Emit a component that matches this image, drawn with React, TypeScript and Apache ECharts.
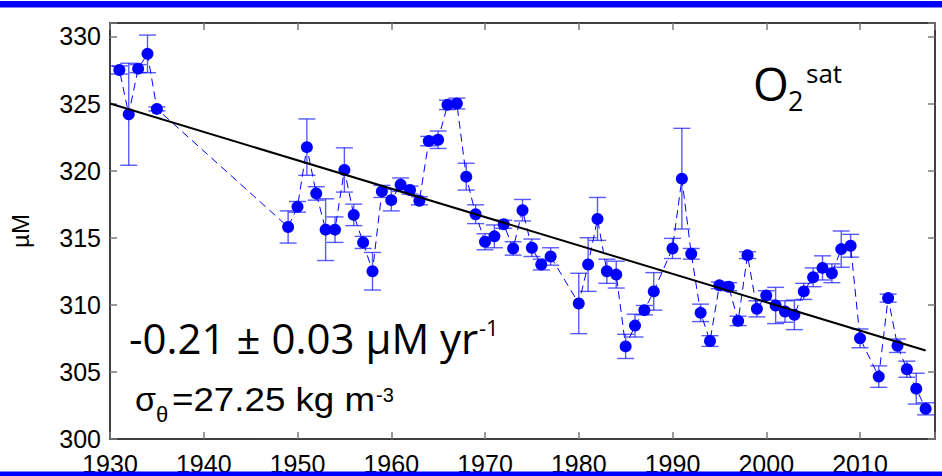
import React, { useEffect, useRef } from "react";
import * as echarts from "echarts";

const years = [
  1929, 1931, 1932, 1933, 1934, 1935,
  1949, 1950, 1951, 1952, 1953, 1954, 1955, 1956, 1957, 1958, 1959,
  1960, 1961, 1962, 1963, 1964, 1965, 1966, 1967, 1968, 1969,
  1970, 1971, 1972, 1973, 1974, 1975, 1976, 1977,
  1980, 1981, 1982, 1983, 1984, 1985, 1986, 1987, 1988,
  1990, 1991, 1992, 1993, 1994, 1995, 1996, 1997, 1998, 1999,
  2000, 2001, 2002, 2003, 2004, 2005, 2006, 2007, 2008, 2009,
  2010, 2012, 2013, 2014, 2015, 2016, 2017,
];
const values = [
  328.3, 327.5, 324.2, 327.6, 328.7, 324.6,
  315.8, 317.3, 321.75, 318.3, 315.6, 315.6, 320.05, 316.7, 314.65, 312.5, 318.45,
  317.8, 318.95, 318.55, 317.75, 322.2, 322.3, 324.9, 325.0, 319.55, 316.75,
  314.7, 315.1, 316.0, 314.2, 317.05, 314.25, 313.0, 313.6,
  310.1, 313.0, 316.4, 312.5, 312.25, 306.9, 308.45, 309.6, 311.0,
  314.2, 319.4, 313.8, 309.4, 307.3, 311.45, 311.35, 308.8, 313.7, 309.7,
  310.7, 309.95, 309.5, 309.25, 311.0, 312.05, 312.75, 312.35, 314.15, 314.4,
  307.5, 304.65, 310.5, 306.95, 305.2, 303.75, 302.25,
];
const errors = [
  0.3, 0.3, 3.8, 0.3, 1.4, 0.15,
  1.2, 0.4, 2.1, 0.5, 2.3, 0.95, 1.65, 0.8, 0.45, 1.4, 0.45,
  0.8, 0.5, 0.3, 0.3, 0.35, 0.65, 0.35, 0.4, 1.0, 0.7,
  0.6, 0.85, 0.3, 0.5, 0.8, 0.65, 0.4, 0.65,
  2.25, 2.0, 1.6, 0.9, 1.0, 0.9, 0.85, 0.35, 1.4,
  0.75, 3.75, 0.4, 0.65, 0.4, 0.25, 0.3, 0.35, 0.25, 0.6,
  0.35, 1.35, 0.8, 1.1, 0.6, 0.7, 0.9, 0.7, 1.35, 0.85,
  0.7, 0.8, 0.3, 0.5, 0.6, 1.15, 0.45,
];
const trendYears = [1930, 2017];
const trendValues = [325.0, 306.6];

const xMin = 1930;
const xMax = 2018;
const xInterval = 10;
const yMin = 300;
const yMax = 331;
const yInterval = 5;

const BLUE = "#0000ff";
const ERR = "rgba(20,20,255,0.7)";
const TICK = "#7a7a7a";
const AXIS_FONT = "Liberation Sans";
const CAL_FONT = "Open Sans";

export default function App() {
  const ref = useRef<HTMLDivElement>(null);

  useEffect(() => {
    if (!ref.current) return;
    const chart = echarts.init(ref.current, undefined, { renderer: "svg" });

    const pts = years.map((y, i) => [y, values[i]]);
    const errData = years.map((y, i) => [y, values[i], errors[i]]);
    const trend = trendYears.map((y, i) => [y, trendValues[i]]);

    const axisCommonX = {
      type: "value" as const,
      min: xMin,
      max: xMax,
      interval: xInterval,
      splitLine: { show: false },
      axisLine: { show: true, onZero: false, lineStyle: { color: "#000", width: 1.5 } },
      axisTick: { show: true, inside: true, length: 7, lineStyle: { color: TICK, width: 1.5 } },
    };
    const axisCommonY = {
      type: "value" as const,
      min: yMin,
      max: yMax,
      interval: yInterval,
      splitLine: { show: false },
      axisLine: { show: true, onZero: false, lineStyle: { color: "#000", width: 1.5 } },
      axisTick: { show: true, inside: true, length: 7, lineStyle: { color: TICK, width: 1.5 } },
    };

    const option: any = {
      animation: false,
      backgroundColor: "#fff",
      grid: { left: 103, right: 7, top: 23, bottom: 37, containLabel: false },
      xAxis: [
        {
          ...axisCommonX,
          position: "bottom",
          axisLabel: {
            show: true,
            color: "#000",
            fontFamily: AXIS_FONT,
            fontSize: 25,
            margin: 12,
            showMinLabel: true,
            formatter: (v: number) => (v % xInterval === 0 ? String(v) : ""),
          },
        },
        {
          ...axisCommonX,
          position: "top",
          axisLabel: { show: false },
        },
      ],
      yAxis: [
        {
          ...axisCommonY,
          position: "left",
          name: "µM",
          nameLocation: "middle",
          nameGap: 78,
          nameRotate: 90,
          nameTextStyle: { color: "#000", fontFamily: AXIS_FONT, fontSize: 24 },
          axisLabel: {
            show: true,
            color: "#000",
            fontFamily: AXIS_FONT,
            fontSize: 25,
            margin: 9,
            formatter: (v: number) => (v % yInterval === 0 ? String(v) : ""),
          },
        },
        {
          ...axisCommonY,
          position: "right",
          axisLabel: { show: false },
        },
      ],
      series: [
        {
          type: "custom",
          name: "errors",
          clip: true,
          xAxisIndex: 0,
          yAxisIndex: 0,
          data: errData,
          encode: { x: 0, y: 1 },
          z: 2,
          renderItem: (params: any, api: any) => {
            const x = api.value(0);
            const y = api.value(1);
            const e = api.value(2);
            const top = api.coord([x, y + e]);
            const bot = api.coord([x, y - e]);
            const hw = 8.5;
            const style = { stroke: ERR, lineWidth: 1.4, fill: "none" };
            return {
              type: "group",
              children: [
                { type: "line", shape: { x1: top[0], y1: top[1], x2: bot[0], y2: bot[1] }, style },
                { type: "line", shape: { x1: top[0] - hw, y1: top[1], x2: top[0] + hw, y2: top[1] }, style },
                { type: "line", shape: { x1: bot[0] - hw, y1: bot[1], x2: bot[0] + hw, y2: bot[1] }, style },
              ],
            };
          },
        },
        {
          type: "line",
          name: "O2sat",
          data: pts,
          clip: true,
          symbol: "circle",
          symbolSize: 12,
          itemStyle: { color: BLUE },
          lineStyle: { color: BLUE, width: 1, type: [8, 5] },
          z: 3,
        },
        {
          type: "line",
          name: "trend",
          data: trend,
          symbol: "none",
          lineStyle: { color: "#000", width: 2 },
          z: 4,
        },
      ],
      graphic: [
        { type: "rect", z: 100, shape: { x: 0, y: 1, width: 942, height: 6.5 }, style: { fill: BLUE } },
        { type: "rect", z: 100, shape: { x: 0, y: 471.5, width: 942, height: 5 }, style: { fill: BLUE } },
        {
          type: "text", z: 50, x: 753, y: 82.5,
          style: { text: "O", font: `46px "${CAL_FONT}"`, fill: "#000", verticalAlign: "middle", align: "left" },
        },
        {
          type: "text", z: 50, x: 788, y: 100.7,
          style: { text: "2", font: `27px "${CAL_FONT}"`, fill: "#000", verticalAlign: "middle", align: "left" },
        },
        {
          type: "text", z: 50, x: 806, y: 73.4,
          style: { text: "sat", font: `26px "${CAL_FONT}"`, fill: "#000", verticalAlign: "middle", align: "left" },
        },
        {
          type: "text", z: 50, x: 129, y: 337,
          style: { text: "-0.21 ± 0.03 µM yr", font: `42px "${CAL_FONT}"`, fill: "#000", verticalAlign: "middle", align: "left" },
        },
        {
          type: "text", z: 50, x: 479, y: 326.6,
          style: { text: "-1", font: `22px "${CAL_FONT}"`, fill: "#000", verticalAlign: "middle", align: "left" },
        },
        {
          type: "text", z: 50, x: 135, y: 399,
          style: { text: "σ", font: `34px "${AXIS_FONT}"`, fill: "#000", verticalAlign: "middle", align: "left" },
        },
        {
          type: "text", z: 50, x: 156, y: 414.6,
          style: { text: "θ", font: `22px "${AXIS_FONT}"`, fill: "#000", verticalAlign: "middle", align: "left" },
        },
        {
          type: "text", z: 50, x: 172, y: 399, scaleX: 1.08,
          style: { text: "=27.25 kg m", font: `34px "${AXIS_FONT}"`, fill: "#000", verticalAlign: "middle", align: "left" },
        },
        {
          type: "text", z: 50, x: 376, y: 395.4,
          style: { text: "-3", font: `20px "${AXIS_FONT}"`, fill: "#000", verticalAlign: "middle", align: "left" },
        },
      ],
    };

    chart.setOption(option);
    return () => chart.dispose();
  }, []);

  return (
    <div
      ref={ref}
      style={{ position: "absolute", left: 0, top: 0, width: 942, height: 476, background: "#fff" }}
    />
  );
}
